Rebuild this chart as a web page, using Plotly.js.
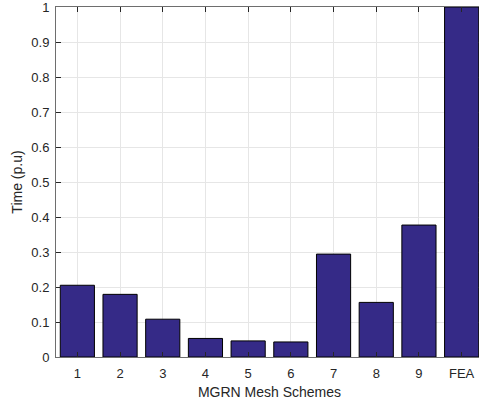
<!DOCTYPE html>
<html>
<head>
<meta charset="utf-8">
<script src="https://cdn.plot.ly/plotly-3.0.1.min.js"></script>
<style>
html,body{margin:0;padding:0;overflow:hidden;background:#fff;}
#chart{width:490px;height:401px;}
</style>
</head>
<body>
<div id="chart"></div>
<script>
const categories = ["1","2","3","4","5","6","7","8","9","FEA"];
const timeValues = [0.205, 0.179, 0.108, 0.053, 0.046, 0.043, 0.294, 0.156, 0.377, 1.0];
const yTickVals = [0,0.1,0.2,0.3,0.4,0.5,0.6,0.7,0.8,0.9,1];
const yTickText = ["0","0.1","0.2","0.3","0.4","0.5","0.6","0.7","0.8","0.9","1"];

const axisColor = "#262626";
const fontFam = "Arial, 'Liberation Sans', Helvetica, sans-serif";

const trace = {
  type: "bar",
  x: categories,
  y: timeValues,
  width: 0.8,
  marker: {color: "rgb(53,42,135)", line: {color: "#000000", width: 1}},
  hoverinfo: "none"
};

const layout = {
  width: 490,
  height: 401,
  margin: {l: 56, r: 7, t: 7, b: 44},
  paper_bgcolor: "#ffffff",
  plot_bgcolor: "#ffffff",
  showlegend: false,
  bargap: 0.2,
  font: {family: fontFam, size: 13, color: axisColor},
  xaxis: {
    type: "category",
    range: [-0.5, 9.5],
    showgrid: true,
    gridcolor: "#e6e6e6",
    gridwidth: 1,
    showline: true,
    linecolor: "#6e6e6e",
    linewidth: 1,
    mirror: "ticks",
    ticks: "inside",
    ticklen: 5,
    tickcolor: axisColor,
    ticklabelstandoff: 4,
    ticklabeloverflow: "allow",
    tickfont: {family: fontFam, size: 13, color: axisColor},
    title: {text: "MGRN Mesh Schemes", font: {family: fontFam, size: 14, color: axisColor}, standoff: 7},
    zeroline: false,
    fixedrange: true
  },
  yaxis: {
    range: [0, 1],
    tickvals: yTickVals,
    ticktext: yTickText,
    showgrid: true,
    gridcolor: "#e6e6e6",
    gridwidth: 1,
    showline: true,
    linecolor: "#6e6e6e",
    linewidth: 1,
    mirror: "ticks",
    ticks: "inside",
    ticklen: 5,
    tickcolor: axisColor,
    ticklabelstandoff: 3,
    ticklabeloverflow: "allow",
    tickfont: {family: fontFam, size: 13, color: axisColor},
    title: {text: "Time (p.u)", font: {family: fontFam, size: 14, color: axisColor}, standoff: 5},
    zeroline: false,
    fixedrange: true
  }
};

Plotly.newPlot("chart", [trace], layout, {staticPlot: true, displayModeBar: false});
</script>
</body>
</html>
